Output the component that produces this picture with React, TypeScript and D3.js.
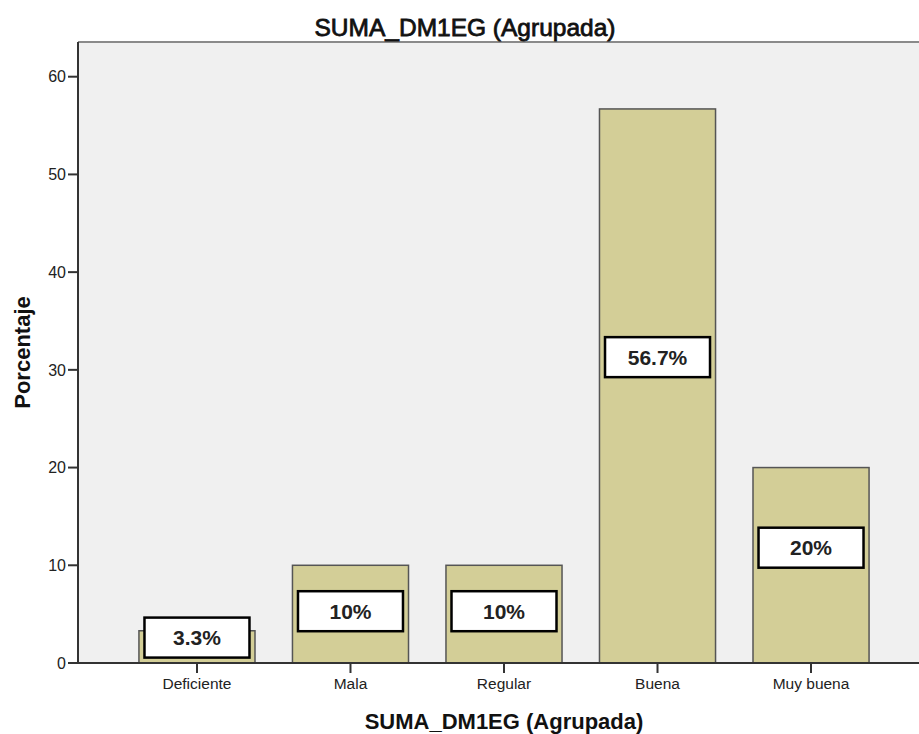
import React from "react";
import * as d3 from "d3";

const categories = ["Deficiente", "Mala", "Regular", "Buena", "Muy buena"];
const percentages = [3.3, 10, 10, 56.7, 20];
const valueLabels = ["3.3%", "10%", "10%", "56.7%", "20%"];
const labelAnchor = [2.6, 5.3, 5.3, 31.3, 11.8];
const yTicks = [0, 10, 20, 30, 40, 50, 60];

const W = 919;
const H = 734;
const plot = { left: 78, right: 930, top: 42, bottom: 663 };
const FONT = "Arial, 'Liberation Sans', Helvetica, sans-serif";

export default function App() {
  const x = d3
    .scaleBand<string>()
    .domain(categories)
    .range([plot.left, plot.right])
    .paddingInner(0.244)
    .paddingOuter(0.397);
  const y = d3.scaleLinear().domain([0, 60]).range([plot.bottom, plot.bottom - 586.3]);

  const boxW = 105;
  const boxH = 40;

  return (
    <svg
      width={W}
      height={H}
      style={{ position: "absolute", left: 0, top: 0, background: "#fff" }}
      fontFamily={FONT}
    >
      <rect x={plot.left} y={plot.top} width={plot.right - plot.left} height={plot.bottom - plot.top} fill="#f0f0f0" />
      <line x1={plot.left} x2={plot.right} y1={plot.top} y2={plot.top} stroke="#8a8a8a" strokeWidth={2} />

      {categories.map((c, i) => (
        <rect
          key={c}
          x={x(c)!}
          y={y(percentages[i])}
          width={x.bandwidth()}
          height={y(0) - y(percentages[i])}
          fill="#d3ce97"
          stroke="#555"
          strokeWidth={1.5}
        />
      ))}

      {categories.map((c, i) => {
        const cx = x(c)! + x.bandwidth() / 2;
        const cy = y(labelAnchor[i]);
        return (
          <g key={"l" + c}>
            <rect x={cx - boxW / 2} y={cy - boxH / 2} width={boxW} height={boxH} fill="#fff" stroke="#000" strokeWidth={2.5} />
            <text x={cx} y={cy} dy="0.36em" textAnchor="middle" fontSize={21} fontWeight="bold" fill="#222">
              {valueLabels[i]}
            </text>
          </g>
        );
      })}

      <line x1={plot.left} x2={plot.left} y1={plot.top} y2={plot.bottom} stroke="#333" strokeWidth={2} />
      <line x1={plot.left} x2={plot.right} y1={plot.bottom} y2={plot.bottom} stroke="#333" strokeWidth={2} />

      {yTicks.map((t) => (
        <g key={"y" + t}>
          <line x1={plot.left - 10} x2={plot.left} y1={y(t)} y2={y(t)} stroke="#333" strokeWidth={2} />
          <text x={plot.left - 12} y={y(t)} dy="0.36em" textAnchor="end" fontSize={16} fill="#222">
            {t}
          </text>
        </g>
      ))}

      {categories.map((c) => {
        const cx = x(c)! + x.bandwidth() / 2;
        return (
          <g key={"x" + c}>
            <line x1={cx} x2={cx} y1={plot.bottom} y2={plot.bottom + 10} stroke="#333" strokeWidth={2} />
            <text x={cx} y={689} textAnchor="middle" fontSize={15.5} fill="#222">
              {c}
            </text>
          </g>
        );
      })}

      <text x={465} y={35.5} textAnchor="middle" fontSize={24.5} fill="#111" stroke="#111" strokeWidth={0.8}>
        SUMA_DM1EG (Agrupada)
      </text>
      <text x={(plot.left + plot.right) / 2} y={729} textAnchor="middle" fontSize={22} fontWeight="bold" fill="#111">
        SUMA_DM1EG (Agrupada)
      </text>
      <text
        transform={`translate(30, ${(plot.top + plot.bottom) / 2}) rotate(-90)`}
        textAnchor="middle"
        fontSize={22}
        fontWeight="bold"
        fill="#111"
      >
        Porcentaje
      </text>
    </svg>
  );
}
